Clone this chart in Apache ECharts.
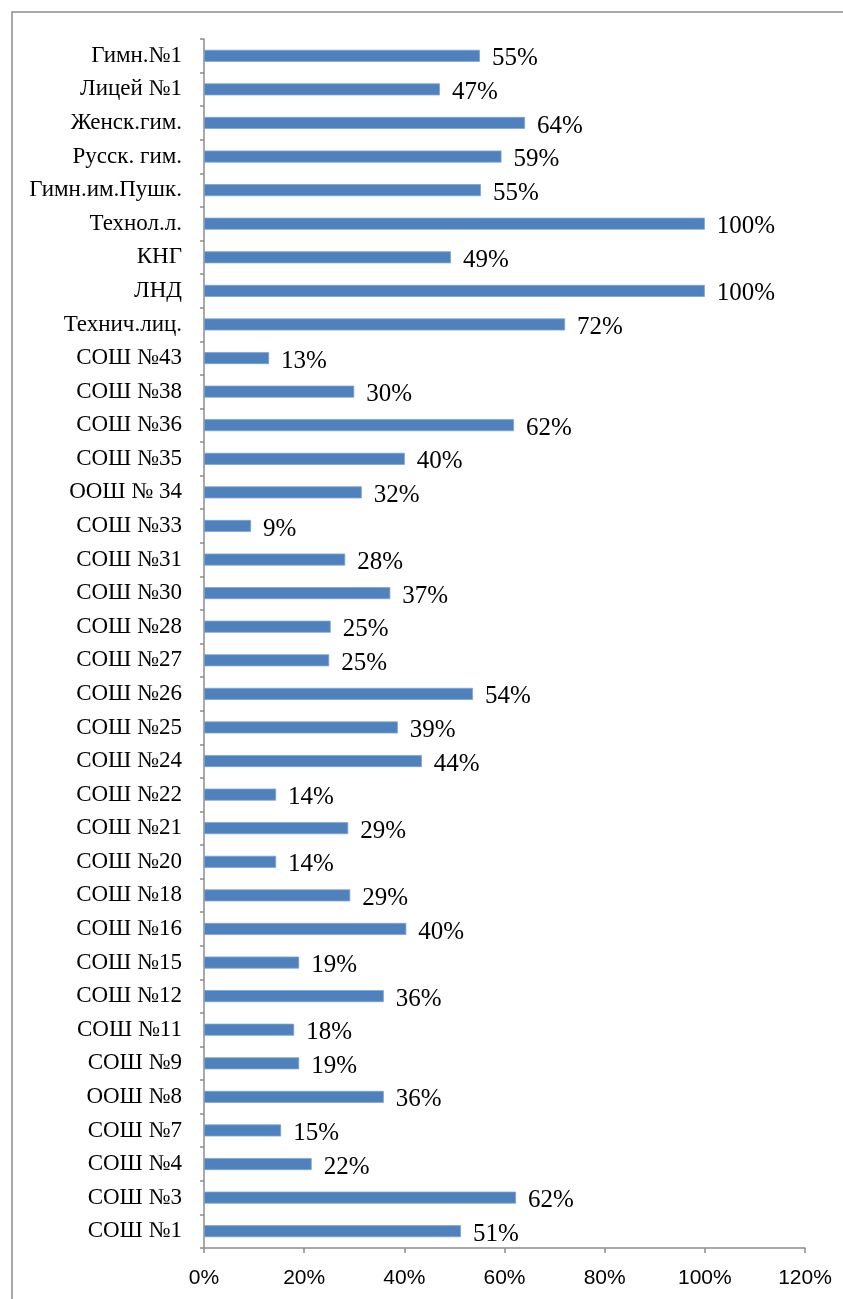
<!DOCTYPE html>
<html>
<head>
<meta charset="utf-8">
<script src="https://cdn.jsdelivr.net/npm/echarts@6/dist/echarts.min.js"></script>
<style>
  html, body { margin: 0; padding: 0; background: #fff; }
  #chart { width: 843px; height: 1299px; }
</style>
</head>
<body>
<div id="chart"></div>
<script>
// категории сверху вниз, как на рисунке
const schools = [
  'Гимн.№1', 'Лицей №1', 'Женск.гим.', 'Русск. гим.', 'Гимн.им.Пушк.',
  'Технол.л.', 'КНГ', 'ЛНД', 'Технич.лиц.', 'СОШ №43', 'СОШ №38',
  'СОШ №36', 'СОШ №35', 'ООШ № 34', 'СОШ №33', 'СОШ №31', 'СОШ №30',
  'СОШ №28', 'СОШ №27', 'СОШ №26', 'СОШ №25', 'СОШ №24', 'СОШ №22',
  'СОШ №21', 'СОШ №20', 'СОШ №18', 'СОШ №16', 'СОШ №15', 'СОШ №12',
  'СОШ №11', 'СОШ №9', 'ООШ №8', 'СОШ №7', 'СОШ №4', 'СОШ №3', 'СОШ №1'
];
// доля, %
const shares = [
  55.1, 47.1, 64.1, 59.4, 55.3,
  100, 49.3, 100, 72.1, 13, 30,
  61.9, 40.1, 31.5, 9.4, 28.2, 37.2,
  25.3, 25, 53.7, 38.7, 43.5, 14.4,
  28.8, 14.4, 29.2, 40.4, 19, 35.9,
  18, 19, 35.9, 15.4, 21.5, 62.3, 51.3
];
const xTicks = [0, 20, 40, 60, 80, 100, 120];

const chart = echarts.init(document.getElementById('chart'));
chart.setOption({
  animation: false,
  backgroundColor: '#fff',
  graphic: [{
    type: 'rect',
    shape: { x: 12, y: 12, width: 2000, height: 2000 },
    style: { fill: 'none', stroke: '#8c8c8c', lineWidth: 1.5 },
    silent: true
  }],
  grid: { left: 204, right: 38, top: 39, bottom: 51 },
  xAxis: {
    type: 'value',
    min: xTicks[0],
    max: xTicks[xTicks.length - 1],
    interval: 20,
    axisLine: { show: true, lineStyle: { color: '#8c8c8c', width: 1.5 } },
    axisTick: { show: true, length: 5, lineStyle: { color: '#8c8c8c', width: 1.5 } },
    splitLine: { show: false },
    axisLabel: {
      margin: 20,
      fontFamily: 'Liberation Sans',
      fontSize: 21,
      color: '#000',
      formatter: v => v + '%'
    }
  },
  yAxis: {
    type: 'category',
    inverse: true,
    data: schools,
    axisLine: { show: true, lineStyle: { color: '#8c8c8c', width: 1.5 } },
    axisTick: { show: true, length: 4, lineStyle: { color: '#8c8c8c', width: 1.5 } },
    axisLabel: {
      margin: 22,
      fontFamily: 'Liberation Serif',
      fontSize: 23,
      color: '#000'
    }
  },
  series: [{
    type: 'bar',
    data: shares,
    barWidth: 12,
    itemStyle: { color: '#4f81bd', borderColor: '#7ea3d3', borderWidth: 0.8 },
    label: {
      show: true,
      position: 'right',
      distance: 12,
      offset: [0, 3],
      fontFamily: 'Liberation Serif',
      fontSize: 25,
      color: '#000',
      formatter: p => Math.round(p.value) + '%'
    }
  }]
});
</script>
</body>
</html>
